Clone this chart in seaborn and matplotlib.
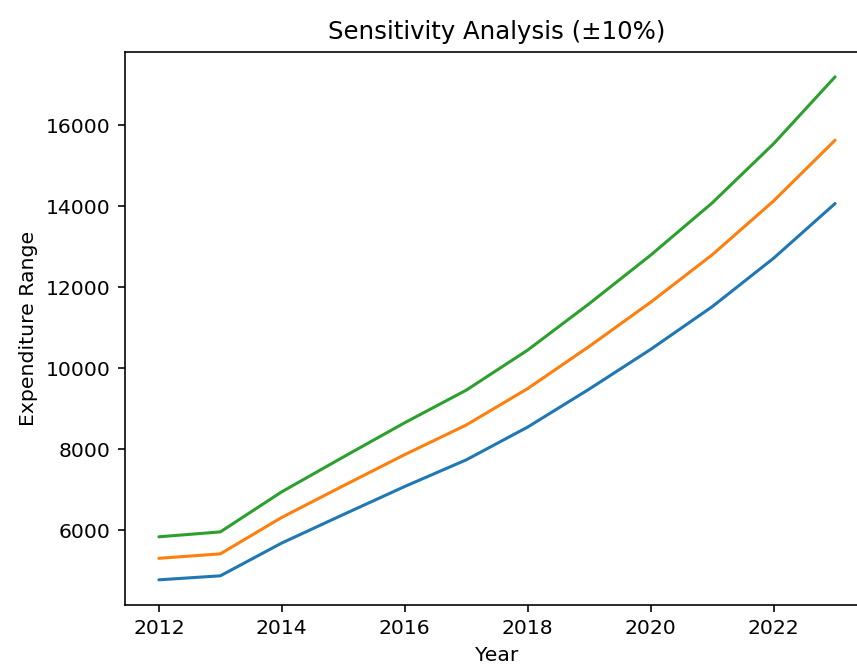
import matplotlib
matplotlib.use("Agg")
import matplotlib.pyplot as plt
import seaborn as sns
import pandas as pd

years = [2012, 2013, 2014, 2015, 2016, 2017, 2018, 2019, 2020, 2021, 2022, 2023]
base = [5310, 5420, 6320, 7100, 7870, 8600, 9500, 10540, 11630, 12800, 14130, 15630]
lower = [4779, 4878, 5688, 6390, 7083, 7740, 8550, 9486, 10467, 11520, 12717, 14067]
upper = [5841, 5962, 6952, 7810, 8657, 9460, 10450, 11594, 12793, 14080, 15543, 17193]
scenarios = ["-10%", "Base", "+10%"]

frames = []
for name, vals in zip(scenarios, [lower, base, upper]):
    frames.append(pd.DataFrame({"Year": years, "Expenditure": vals, "Scenario": name}))
df = pd.concat(frames, ignore_index=True)

sns.set_style("ticks")
plt.rcParams["font.family"] = ["DejaVu Sans"]
plt.rcParams["text.color"] = "black"
plt.rcParams["axes.labelcolor"] = "black"
plt.rcParams["xtick.color"] = "black"
plt.rcParams["ytick.color"] = "black"

DPI = 146.6
fig = plt.figure(figsize=(857 / DPI, 666 / DPI), dpi=DPI)
ax = fig.add_axes([0.1459, 0.0916, 0.868, 0.8308])
sns.lineplot(data=df, x="Year", y="Expenditure", hue="Scenario",
             palette=["#1f77b4", "#ff7f0e", "#2ca02c"], legend=False,
             linewidth=1.5, ax=ax)
ax.set_xlim(2011.45, 2023.55)
ax.set_ylim(4158, 17814)
ax.set_xticks([2012, 2014, 2016, 2018, 2020, 2022])
ax.set_xlabel("Year")
ax.set_ylabel("Expenditure Range")
ax.set_title("Sensitivity Analysis (±10%)")
for s in ax.spines.values():
    s.set_visible(True)
    s.set_color("black")
    s.set_linewidth(0.8)
fig.savefig("out.png", dpi=DPI, facecolor="white")
